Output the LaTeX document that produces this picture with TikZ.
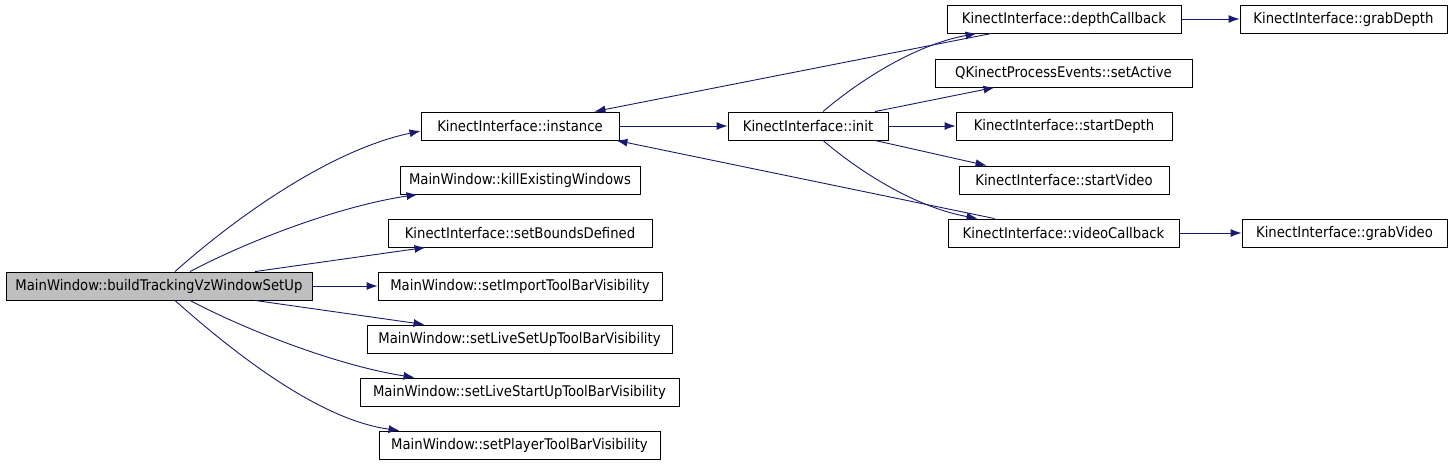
\documentclass[tikz,border=0pt]{standalone}
\usepackage{fontspec}
\setmainfont{DejaVu Sans Condensed}
\usetikzlibrary{arrows.meta,calc}
\definecolor{edgecol}{HTML}{191970}
\definecolor{rootfill}{HTML}{BFBFBF}
\begin{document}
\begin{tikzpicture}[x=1pt,y=-1pt,
  fn/.style={draw=black, line width=0.9pt, minimum height=28pt, inner sep=0pt, fill=white, font=\fontsize{14.7}{17}\selectfont},
  call/.style={draw=edgecol, line width=0.9pt, -{Latex[length=11pt,width=8pt]}}]
\useasboundingbox (0,0) rectangle (1456,467);
% column 1
\node[fn, fill=rootfill, minimum width=306pt] (build) at (159,286) {MainWindow::buildTrackingVzWindowSetUp};
% column 2
\node[fn, minimum width=198pt] (instance) at (520,126) {KinectInterface::instance};
\node[fn, minimum width=240pt] (kill) at (520,180) {MainWindow::killExistingWindows};
\node[fn, minimum width=264pt] (bounds) at (520,233) {KinectInterface::setBoundsDefined};
\node[fn, minimum width=284pt] (import) at (520,286) {MainWindow::setImportToolBarVisibility};
\node[fn, minimum width=305pt] (livesetup) at (519.5,339) {MainWindow::setLiveSetUpToolBarVisibility};
\node[fn, minimum width=319pt] (livestartup) at (519.5,392) {MainWindow::setLiveStartUpToolBarVisibility};
\node[fn, minimum width=281pt] (player) at (519.5,445) {MainWindow::setPlayerToolBarVisibility};
% column 3
\node[fn, minimum width=160pt] (init) at (808,126) {KinectInterface::init};
% column 4
\node[fn, minimum width=234pt] (depthcb) at (1064,19) {KinectInterface::depthCallback};
\node[fn, minimum width=257pt] (setactive) at (1063.5,73) {QKinectProcessEvents::setActive};
\node[fn, minimum width=216pt] (startdepth) at (1064,126) {KinectInterface::startDepth};
\node[fn, minimum width=210pt] (startvideo) at (1064,180) {KinectInterface::startVideo};
\node[fn, minimum width=231pt] (videocb) at (1063.5,233) {KinectInterface::videoCallback};
% column 5
\node[fn, minimum width=207pt] (grabdepth) at (1343.5,19) {KinectInterface::grabDepth};
\node[fn, minimum width=205pt] (grabvideo) at (1344.5,233) {KinectInterface::grabVideo};

% edges from build
\draw[call] ([xshift=16pt]build.north) .. controls (235,218) and (330,150) .. ($(instance.west)+(0,5)$);
\draw[call] ([xshift=31pt]build.north) .. controls (250,240) and (340,206) .. ($(kill.south west)+(18,0)$);
\draw[call] ([xshift=96pt]build.north) -- ($(bounds.south west)+(38,0)$);
\draw[call] (build.east) -- (import.west);
\draw[call] ([xshift=96pt]build.south) -- ($(livesetup.north west)+(58,0)$);
\draw[call] ([xshift=31pt]build.south) .. controls (250,332) and (340,366) .. ($(livestartup.north west)+(55,0)$);
\draw[call] ([xshift=16pt]build.south) .. controls (235,354) and (320,420) .. ($(player.north west)+(21,0)$);
% instance
\draw[call] (instance.east) -- (init.west);
% init
\draw[call] ([xshift=15pt]init.north) .. controls (860,80) and (915,45) .. ($(depthcb.south west)+(30,0)$);
\draw[call] ([xshift=67pt]init.north) -- ($(setactive.south west)+(60,0)$);
\draw[call] (init.east) -- (startdepth.west);
\draw[call] ([xshift=67pt]init.south) -- ($(startvideo.north west)+(28,0)$);
\draw[call] ([xshift=15pt]init.south) .. controls (860,172) and (915,207) .. ($(videocb.north west)+(30,0)$);
% callbacks back to instance
\draw[call] ($(depthcb.south west)+(45,0)$) -- ($(instance.north east)+(-25,0)$);
\draw[call] ($(videocb.north west)+(47,0)$) -- ($(instance.south east)+(-3,0)$);
% grab
\draw[call] (depthcb.east) -- (grabdepth.west);
\draw[call] (videocb.east) -- (grabvideo.west);
\end{tikzpicture}
\end{document}
